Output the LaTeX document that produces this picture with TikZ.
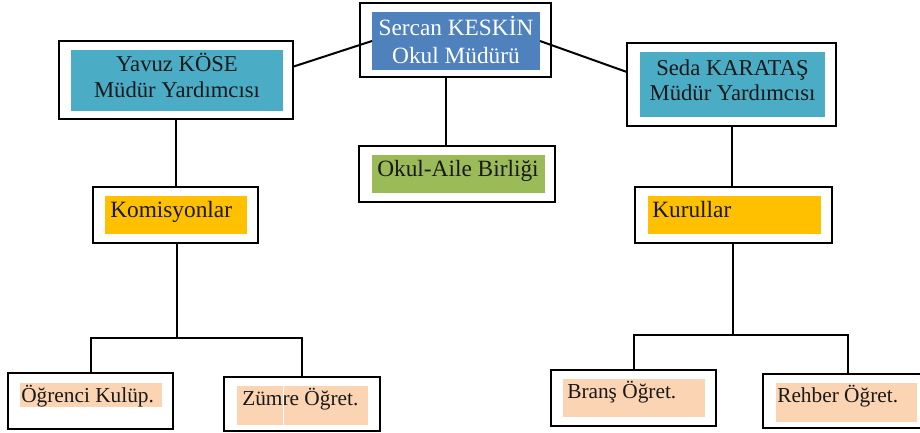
\documentclass[tikz,border=0pt]{standalone}
\usepackage{fontspec}
\setmainfont{Liberation Serif}
\usetikzlibrary{calc}
\definecolor{cblue}{HTML}{4F81BD}
\definecolor{cteal}{HTML}{4BACC6}
\definecolor{cgreen}{HTML}{9BBB59}
\definecolor{corange}{HTML}{FFC000}
\definecolor{cpeach}{HTML}{FBD4B4}
\begin{document}
\begin{tikzpicture}[x=0.75pt,y=-0.75pt,
  outerbox/.style={draw=black, line width=1.6pt, fill=white, inner sep=0, outer sep=0, anchor=north west},
  fillbox/.style={inner sep=0, outer sep=0, anchor=north west},
  sz/.style 2 args={minimum width={(#1)*0.75pt}, minimum height={(#2)*0.75pt}},
  conn/.style={line width=1.5pt},
  bigtxt/.style={inner sep=0, font=\fontsize{17.5}{19}\selectfont, text=black!90},
  midtxt/.style={inner sep=0, font=\fontsize{17}{18}\selectfont, text=black!90},
  smalltxt/.style={inner sep=0, font=\fontsize{16}{18}\selectfont, text=black!90}]
\path[use as bounding box, clip] (0,0) rectangle (920,432);

% top
\node[outerbox, sz={191}{74}] (so) at (360,3) {};
\node[fillbox, fill=cblue, sz={168}{58}] (sb) at (372,12) {};
\node[bigtxt, text=white, anchor=base] (s1) at (456,35) {Sercan KESKİN};
\node[bigtxt, text=white, anchor=base] (s2) at (456,63) {Okul Müdürü};

% left deputy
\node[outerbox, sz={234}{78}] (yo) at (59,41) {};
\node[fillbox, fill=cteal, sz={212}{61}] (yb) at (71,50) {};
\node[midtxt, anchor=base] (y1) at (177,71) {Yavuz KÖSE};
\node[midtxt, anchor=base] (y2) at (177,97) {Müdür Yardımcısı};

% right deputy
\node[outerbox, sz={209}{83}] (do) at (627,43) {};
\node[fillbox, fill=cteal, sz={185}{65}] (db) at (640,52) {};
\node[midtxt, anchor=base] (d1) at (732.5,75) {Seda KARATAŞ};
\node[midtxt, anchor=base] (d2) at (732.5,100) {Müdür Yardımcısı};

% okul-aile
\node[outerbox, sz={196}{56}] (ao) at (359,146) {};
\node[fillbox, fill=cgreen, sz={173}{38}] (ag) at (372,155) {};
\node[bigtxt, anchor=base west] (a1) at (377,176) {Okul-Aile Birliği};

% komisyonlar
\node[outerbox, sz={165}{56}] (ko) at (93,187) {};
\node[fillbox, fill=corange, sz={142}{38}] (kf) at (105,196) {};
\node[bigtxt, anchor=base west] (k1) at (110,217) {Komisyonlar};

% kurullar
\node[outerbox, sz={197}{56}] (uo) at (635,187) {};
\node[fillbox, fill=corange, sz={173}{38}] (uf) at (648,196) {};
\node[bigtxt, anchor=base west] (u1) at (652,217) {Kurullar};

% bottom left
\node[outerbox, sz={165}{56}] (oo) at (8,373) {};
\node[fillbox, fill=cpeach, sz={142}{24}] (of) at (20,383) {};
\node[smalltxt, anchor=base west] (o1) at (21,402) {Öğrenci Kulüp.};

\node[outerbox, sz={156}{54}] (zo) at (224,377) {};
\node[fillbox, fill=cpeach, sz={131}{39}] (zf) at (237,386) {};
\node[smalltxt, anchor=base west] (z1) at (242,405) {Zümre Öğret.};
\draw[white, line width=0.6pt] (zf.north -| 283,0) -- (zf.south -| 283,0);

% bottom right
\node[outerbox, sz={165}{56}] (bo) at (551,370) {};
\node[fillbox, fill=cpeach, sz={142}{38}] (bf) at (563,379) {};
\node[smalltxt, anchor=base west] (b1) at (567,398) {Branş Öğret.};

\node[outerbox, sz={170}{54}] (ro) at (763,374) {};
\node[fillbox, fill=cpeach, sz={141}{39}] (rf) at (776,383) {};
\node[smalltxt, anchor=base west] (r1) at (777,402) {Rehber Öğret.};

% connectors
\draw[conn] (sb.west) -- ($(yo.north east)!0.33!(yo.south east)$);
\draw[conn] (sb.east) -- ($(do.north west)!0.35!(do.south west)$);
\coordinate (av) at ($(so.south)+(-10,0)$);
\draw[conn] (av) -- (av |- ao.north);
\draw[conn] (yo.south) -- (yo.south |- ko.north);
\draw[conn] (do.south) -- (do.south |- uo.north);

\coordinate (kb) at (177,338);
\draw[conn] (kb |- ko.south) -- (kb);
\draw[conn] (oo.north) |- (kb) -| (zo.north);

\coordinate (ub) at (733,335);
\draw[conn] (ub |- uo.south) -- (ub);
\draw[conn] (bo.north) |- (ub) -| (ro.north);
\end{tikzpicture}
\end{document}
